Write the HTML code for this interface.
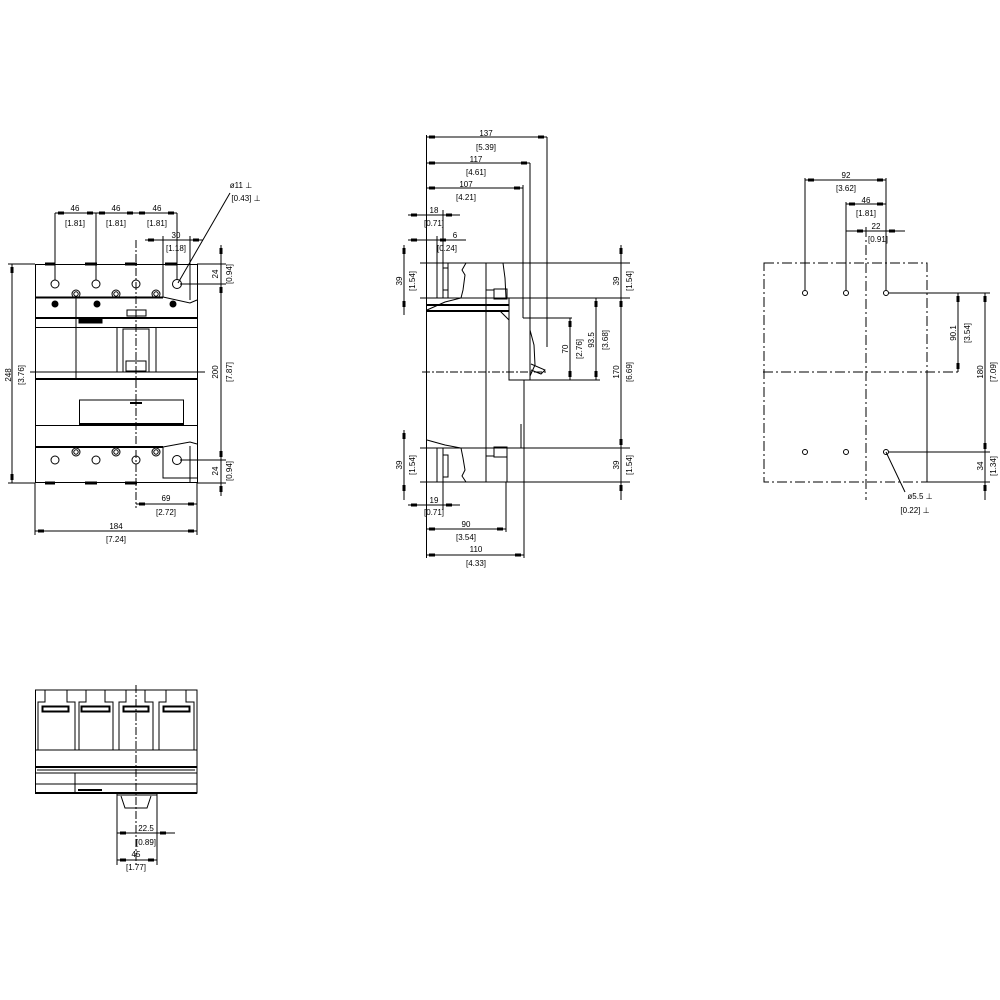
<!DOCTYPE html>
<html><head><meta charset="utf-8"><style>
html,body{margin:0;padding:0;background:#fff}
svg{display:block}
text{font-family:"Liberation Sans",sans-serif;font-size:8px;fill:#000}
</style></head><body>
<svg width="1000" height="1000" viewBox="0 0 1000 1000" xmlns="http://www.w3.org/2000/svg">
<defs>
<marker id="a" markerWidth="9" markerHeight="4" refX="9" refY="2" orient="auto-start-reverse" markerUnits="userSpaceOnUse"><rect x="0" y="0.5" width="6" height="3" fill="#000"/></marker>
</defs>
<g stroke="#000" stroke-width="1" fill="none">
<!-- VIEW 1 front -->
<rect x="35.5" y="264.5" width="162" height="218"/>
<line x1="35" y1="297.5" x2="163" y2="297.5" stroke-width="2"/>
<line x1="35" y1="318" x2="197" y2="318" stroke-width="2"/>
<line x1="35" y1="327.5" x2="197" y2="327.5"/>
<line x1="35" y1="379" x2="197" y2="379" stroke-width="2"/>
<line x1="35" y1="425.5" x2="197" y2="425.5"/>
<line x1="35" y1="447" x2="163" y2="447" stroke-width="2"/>
<line x1="76" y1="297" x2="76" y2="379"/>
<line x1="117" y1="327" x2="117" y2="372"/>
<line x1="156" y1="327" x2="156" y2="372"/>
<rect x="123" y="329" width="26" height="43"/>
<rect x="126" y="361" width="20" height="10"/>
<rect x="79" y="318" width="23" height="5" fill="#000"/>
<rect x="127" y="310" width="19" height="6"/>
<rect x="79.5" y="400" width="104" height="24"/>
<line x1="79" y1="424" x2="184" y2="424" stroke-width="2"/>
<line x1="130" y1="403" x2="142" y2="403" stroke-width="2"/>
<line x1="163" y1="264" x2="163" y2="297"/>
<polyline points="163,297 190,303 197,300"/>
<line x1="190" y1="264" x2="190" y2="300"/>
<polyline points="163,447 163,478 197,478"/>
<polyline points="163,447 190,442 197,444"/>
<line x1="190" y1="446" x2="190" y2="482"/>
<g stroke-width="3"><line x1="45" y1="264" x2="55" y2="264"/><line x1="85" y1="264" x2="97" y2="264"/><line x1="125" y1="264" x2="137" y2="264"/><line x1="165" y1="264" x2="177" y2="264"/>
<line x1="45" y1="483" x2="55" y2="483"/><line x1="85" y1="483" x2="97" y2="483"/><line x1="125" y1="483" x2="137" y2="483"/></g>
<circle cx="55" cy="284" r="4"/><circle cx="96" cy="284" r="4"/><circle cx="136" cy="284" r="4"/><circle cx="177" cy="284" r="4.5"/>
<circle cx="55" cy="460" r="4"/><circle cx="96" cy="460" r="4"/><circle cx="136" cy="460" r="4"/><circle cx="177" cy="460" r="4.5"/>
<g><circle cx="76" cy="294" r="4"/><circle cx="76" cy="294" r="2.2"/><circle cx="116" cy="294" r="4"/><circle cx="116" cy="294" r="2.2"/><circle cx="156" cy="294" r="4"/><circle cx="156" cy="294" r="2.2"/>
<circle cx="76" cy="452" r="4"/><circle cx="76" cy="452" r="2.2"/><circle cx="116" cy="452" r="4"/><circle cx="116" cy="452" r="2.2"/><circle cx="156" cy="452" r="4"/><circle cx="156" cy="452" r="2.2"/></g>
<circle cx="55" cy="304" r="3" fill="#000"/><circle cx="97" cy="304" r="3" fill="#000"/><circle cx="173" cy="304" r="3" fill="#000"/>
<line x1="136" y1="240" x2="136" y2="508" stroke-dasharray="8,2,2,2"/>
<line x1="30" y1="372" x2="205" y2="372"/>
<!-- dims view1 -->
<line x1="55" y1="213" x2="177" y2="213"/>
<line x1="55" y1="213" x2="96" y2="213" marker-start="url(#a)" marker-end="url(#a)"/>
<line x1="96" y1="213" x2="136" y2="213" marker-start="url(#a)" marker-end="url(#a)"/>
<line x1="136" y1="213" x2="177" y2="213" marker-start="url(#a)" marker-end="url(#a)"/>
<line x1="55" y1="213" x2="55" y2="280"/><line x1="96" y1="213" x2="96" y2="280"/><line x1="177" y1="213" x2="177" y2="280"/>
<line x1="145" y1="240" x2="203" y2="240"/>
<line x1="163" y1="240" x2="145" y2="240" marker-end="url(#a)"/>
<line x1="190" y1="240" x2="203" y2="240" marker-start="url(#a)"/>
<line x1="163" y1="236" x2="163" y2="264"/><line x1="190" y1="236" x2="190" y2="264"/>
<line x1="178" y1="283" x2="230" y2="193"/>
<line x1="12" y1="264" x2="12" y2="483" marker-start="url(#a)" marker-end="url(#a)"/>
<line x1="8" y1="264" x2="35" y2="264"/><line x1="8" y1="483" x2="35" y2="483"/>
<line x1="221" y1="245" x2="221" y2="496"/>
<line x1="221" y1="264" x2="221" y2="245" marker-end="url(#a)"/>
<line x1="221" y1="284" x2="221" y2="460" marker-start="url(#a)" marker-end="url(#a)"/>
<line x1="221" y1="483" x2="221" y2="496" marker-start="url(#a)"/>
<line x1="197" y1="264" x2="226" y2="264"/><line x1="180" y1="284" x2="226" y2="284"/><line x1="180" y1="460" x2="226" y2="460"/><line x1="197" y1="483" x2="226" y2="483"/>
<line x1="136" y1="504" x2="197" y2="504" marker-start="url(#a)" marker-end="url(#a)"/>
<line x1="197" y1="483" x2="197" y2="535"/><line x1="35" y1="483" x2="35" y2="535"/>
<line x1="35" y1="531" x2="197" y2="531" marker-start="url(#a)" marker-end="url(#a)"/>

<!-- VIEW 2 side -->
<line x1="426.5" y1="135" x2="426.5" y2="558"/>
<line x1="486" y1="263" x2="486" y2="482"/>
<line x1="437" y1="263" x2="437" y2="298"/><line x1="443" y1="263" x2="443" y2="298"/>
<rect x="443" y="268" width="5" height="22"/>
<polyline points="448,298 448,263"/>
<polyline points="427,310 445,302 461,298 463,290 465,275 462,270 466,263 503,263 505,278 506,298"/>
<rect x="486" y="290" width="8" height="8"/><rect x="494" y="289" width="13" height="10"/>
<line x1="420" y1="263" x2="630" y2="263"/>
<line x1="420" y1="298" x2="630" y2="298"/>
<line x1="427" y1="305" x2="509" y2="305" stroke-width="2"/>
<line x1="427" y1="311" x2="509" y2="311" stroke-width="2"/>
<polyline points="509,298 509,380 600,380"/>
<line x1="500" y1="311" x2="509" y2="320"/>
<line x1="523" y1="185" x2="523" y2="318"/>
<line x1="523" y1="318" x2="572" y2="318"/>
<line x1="530" y1="163" x2="530" y2="380"/>
<line x1="547" y1="137" x2="547" y2="347"/>
<polyline points="530,330 534,345 535,365 530,376"/>
<polyline points="531,364 545,370 541,374 531,370"/>
<line x1="524" y1="380" x2="524" y2="448"/>
<line x1="521" y1="424" x2="521" y2="448"/>
<line x1="422" y1="372" x2="548" y2="372" stroke-dasharray="8,2,2,2"/>
<line x1="437" y1="448" x2="437" y2="482"/><line x1="443" y1="448" x2="443" y2="482"/>
<rect x="443" y="455" width="5" height="22"/>
<polyline points="427,440 445,445 461,448 463,458 465,470 462,476 466,482 503,482"/>
<rect x="486" y="448" width="8" height="8"/><rect x="494" y="447" width="13" height="10"/>
<polyline points="507,448 507,482"/>
<line x1="420" y1="448" x2="630" y2="448"/>
<line x1="420" y1="482" x2="630" y2="482"/>
<line x1="426" y1="137" x2="547" y2="137" marker-start="url(#a)" marker-end="url(#a)"/>
<line x1="426" y1="163" x2="530" y2="163" marker-start="url(#a)" marker-end="url(#a)"/>
<line x1="426" y1="188" x2="523" y2="188" marker-start="url(#a)" marker-end="url(#a)"/>
<line x1="408" y1="215" x2="460" y2="215"/>
<line x1="426" y1="215" x2="408" y2="215" marker-end="url(#a)"/>
<line x1="443" y1="215" x2="460" y2="215" marker-start="url(#a)"/>
<line x1="443" y1="210" x2="443" y2="263"/>
<line x1="426" y1="240" x2="466" y2="240"/>
<line x1="426" y1="240" x2="408" y2="240" marker-end="url(#a)"/>
<line x1="437" y1="240" x2="466" y2="240" marker-start="url(#a)"/>
<line x1="437" y1="236" x2="437" y2="263"/>
<line x1="404" y1="245" x2="404" y2="315"/>
<line x1="404" y1="263" x2="404" y2="245" marker-end="url(#a)"/>
<line x1="404" y1="298" x2="404" y2="315" marker-start="url(#a)"/>
<line x1="404" y1="430" x2="404" y2="500"/>
<line x1="404" y1="448" x2="404" y2="430" marker-end="url(#a)"/>
<line x1="404" y1="482" x2="404" y2="500" marker-start="url(#a)"/>
<line x1="621" y1="245" x2="621" y2="500"/>
<line x1="621" y1="263" x2="621" y2="245" marker-end="url(#a)"/>
<line x1="621" y1="298" x2="621" y2="448" marker-start="url(#a)" marker-end="url(#a)"/>
<line x1="621" y1="482" x2="621" y2="500" marker-start="url(#a)"/>
<line x1="570" y1="318" x2="570" y2="380" marker-start="url(#a)" marker-end="url(#a)"/>
<line x1="596" y1="298" x2="596" y2="380" marker-start="url(#a)" marker-end="url(#a)"/>
<line x1="509" y1="298" x2="600" y2="298"/>
<line x1="443" y1="482" x2="443" y2="510"/>
<line x1="408" y1="505" x2="460" y2="505"/>
<line x1="426" y1="505" x2="408" y2="505" marker-end="url(#a)"/>
<line x1="443" y1="505" x2="460" y2="505" marker-start="url(#a)"/>
<line x1="506" y1="482" x2="506" y2="532"/>
<line x1="426" y1="529" x2="506" y2="529" marker-start="url(#a)" marker-end="url(#a)"/>
<line x1="524" y1="448" x2="524" y2="558"/>
<line x1="426" y1="555" x2="524" y2="555" marker-start="url(#a)" marker-end="url(#a)"/>

<!-- VIEW 3 -->
<rect x="764" y="263" width="163" height="219" stroke-dasharray="10,3,2,3"/>
<line x1="927" y1="372" x2="927" y2="482"/>
<line x1="866" y1="227" x2="866" y2="500" stroke-dasharray="10,3,2,3"/>
<line x1="763" y1="372" x2="960" y2="372" stroke-dasharray="10,3,2,3"/>
<circle cx="805" cy="293" r="2.5"/><circle cx="846" cy="293" r="2.5"/><circle cx="886" cy="293" r="2.5"/>
<circle cx="805" cy="452" r="2.5"/><circle cx="846" cy="452" r="2.5"/><circle cx="886" cy="452" r="2.5"/>
<line x1="805" y1="178" x2="805" y2="290"/><line x1="846" y1="202" x2="846" y2="290"/><line x1="886" y1="178" x2="886" y2="290"/>
<line x1="805" y1="180" x2="886" y2="180" marker-start="url(#a)" marker-end="url(#a)"/>
<line x1="846" y1="204" x2="886" y2="204" marker-start="url(#a)" marker-end="url(#a)"/>
<line x1="846" y1="231" x2="905" y2="231"/>
<line x1="846" y1="231" x2="866" y2="231" marker-end="url(#a)"/>
<line x1="886" y1="231" x2="905" y2="231" marker-start="url(#a)"/>
<line x1="889" y1="293" x2="990" y2="293"/>
<line x1="889" y1="452" x2="990" y2="452"/>
<line x1="927" y1="482" x2="990" y2="482"/>
<line x1="958" y1="293" x2="958" y2="372" marker-start="url(#a)" marker-end="url(#a)"/>
<line x1="985" y1="293" x2="985" y2="500"/>
<line x1="985" y1="293" x2="985" y2="452" marker-start="url(#a)" marker-end="url(#a)"/>
<line x1="985" y1="482" x2="985" y2="500" marker-start="url(#a)"/>
<line x1="886" y1="452" x2="905" y2="492"/>

<!-- VIEW 4 -->
<rect x="35.5" y="690" width="161.5" height="103"/>
<line x1="35" y1="793" x2="197" y2="793" stroke-width="2"/>
<line x1="35" y1="750" x2="197" y2="750"/>
<line x1="35" y1="767" x2="197" y2="767" stroke-width="2"/>
<line x1="37" y1="770" x2="195" y2="770"/>
<line x1="35" y1="773" x2="197" y2="773"/>
<line x1="35" y1="784" x2="197" y2="784"/>
<line x1="75" y1="773" x2="75" y2="793"/>
<line x1="78" y1="790" x2="102" y2="790" stroke-width="2"/>
<polyline points="38,750 38,702 45,702 45,690"/>
<polyline points="75,750 75,702 67,702 67,690"/>
<polyline points="79,750 79,702 86,702 86,690"/>
<polyline points="113,750 113,702 105,702 105,690"/>
<polyline points="119,750 119,702 126,702 126,690"/>
<polyline points="153,750 153,702 145,702 145,690"/>
<polyline points="159,750 159,702 166,702 166,690"/>
<polyline points="194,750 194,702 186,702 186,690"/>
<rect x="42" y="706" width="27" height="6"/><rect x="43" y="707" width="25" height="4"/>
<rect x="81" y="706" width="29" height="6"/><rect x="82" y="707" width="27" height="4"/>
<rect x="123" y="706" width="26" height="6"/><rect x="124" y="707" width="24" height="4"/>
<rect x="163" y="706" width="27" height="6"/><rect x="164" y="707" width="25" height="4"/>
<polyline points="117,793 117,865"/><polyline points="157,793 157,865"/>
<polyline points="121,796 125,808 147,808 151,796"/>
<line x1="117" y1="795" x2="157" y2="795"/>
<line x1="136" y1="685" x2="136" y2="865" stroke-dasharray="8,2,2,2"/>
<line x1="117" y1="833" x2="175" y2="833"/>
<line x1="136" y1="833" x2="117" y2="833" marker-end="url(#a)"/>
<line x1="157" y1="833" x2="175" y2="833" marker-start="url(#a)"/>
<line x1="117" y1="860" x2="157" y2="860" marker-start="url(#a)" marker-end="url(#a)"/>
</g>
<g text-anchor="middle">
<text x="75" y="211">46</text><text x="116" y="211">46</text><text x="157" y="211">46</text>
<text x="75" y="226">[1.81]</text><text x="116" y="226">[1.81]</text><text x="157" y="226">[1.81]</text>
<text x="176" y="238">30</text><text x="176" y="251">[1.18]</text>
<text x="241" y="188">ø11 ⊥</text><text x="246" y="201">[0.43] ⊥</text>
<text x="166" y="501">69</text><text x="166" y="515">[2.72]</text>
<text x="116" y="529">184</text><text x="116" y="542">[7.24]</text>
<text transform="translate(11,375) rotate(-90)">248</text>
<text transform="translate(24,375) rotate(-90)">[3.76]</text>
<text transform="translate(218,274) rotate(-90)">24</text>
<text transform="translate(232,274) rotate(-90)">[0.94]</text>
<text transform="translate(218,372) rotate(-90)">200</text>
<text transform="translate(232,372) rotate(-90)">[7.87]</text>
<text transform="translate(218,471) rotate(-90)">24</text>
<text transform="translate(232,471) rotate(-90)">[0.94]</text>

<text x="486" y="136">137</text><text x="486" y="150">[5.39]</text>
<text x="476" y="162">117</text><text x="476" y="175">[4.61]</text>
<text x="466" y="187">107</text><text x="466" y="200">[4.21]</text>
<text x="434" y="213">18</text><text x="434" y="226">[0.71]</text>
<text x="455" y="238">6</text><text x="447" y="251">[0.24]</text>
<text x="434" y="503">19</text><text x="434" y="515">[0.71]</text>
<text x="466" y="527">90</text><text x="466" y="540">[3.54]</text>
<text x="476" y="552">110</text><text x="476" y="566">[4.33]</text>
<text transform="translate(402,281) rotate(-90)">39</text>
<text transform="translate(415,281) rotate(-90)">[1.54]</text>
<text transform="translate(402,465) rotate(-90)">39</text>
<text transform="translate(415,465) rotate(-90)">[1.54]</text>
<text transform="translate(619,281) rotate(-90)">39</text>
<text transform="translate(632,281) rotate(-90)">[1.54]</text>
<text transform="translate(619,372) rotate(-90)">170</text>
<text transform="translate(632,372) rotate(-90)">[6.69]</text>
<text transform="translate(619,465) rotate(-90)">39</text>
<text transform="translate(632,465) rotate(-90)">[1.54]</text>
<text transform="translate(568,349) rotate(-90)">70</text>
<text transform="translate(582,349) rotate(-90)">[2.76]</text>
<text transform="translate(594,340) rotate(-90)">93.5</text>
<text transform="translate(608,340) rotate(-90)">[3.68]</text>

<text x="846" y="178">92</text><text x="846" y="191">[3.62]</text>
<text x="866" y="203">46</text><text x="866" y="216">[1.81]</text>
<text x="876" y="229">22</text><text x="878" y="242">[0.91]</text>
<text transform="translate(956,333) rotate(-90)">90.1</text>
<text transform="translate(970,333) rotate(-90)">[3.54]</text>
<text transform="translate(983,372) rotate(-90)">180</text>
<text transform="translate(996,372) rotate(-90)">[7.09]</text>
<text transform="translate(983,466) rotate(-90)">34</text>
<text transform="translate(996,466) rotate(-90)">[1.34]</text>
<text x="920" y="499">ø5.5 ⊥</text><text x="915" y="513">[0.22] ⊥</text>

<text x="146" y="831">22.5</text><text x="146" y="845">[0.89]</text>
<text x="136" y="857">45</text><text x="136" y="870">[1.77]</text>
</g>
</svg>
</body></html>
